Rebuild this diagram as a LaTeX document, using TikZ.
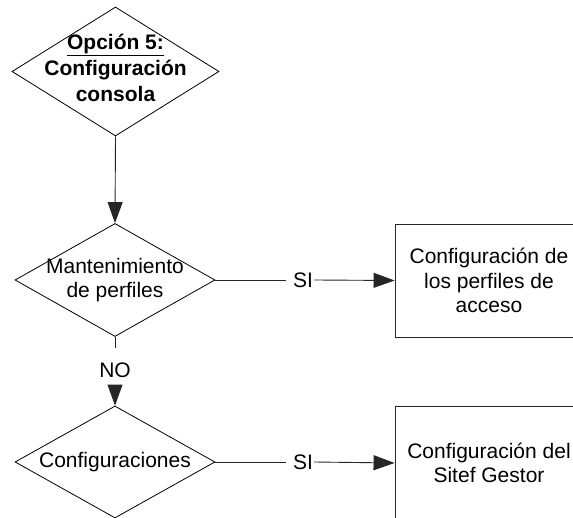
\documentclass[tikz,border=0pt]{standalone}
\usepackage{fontspec}
\setmainfont{Liberation Sans}
\usetikzlibrary{shapes.geometric,arrows.meta,calc}

\tikzset{
  decision/.style={shape=diamond, draw=black, line width=0.8pt, inner sep=0pt, fill=white},
  process/.style={shape=rectangle, draw=black!85, line width=0.9pt, align=center, inner sep=0pt,
    font=\fontsize{21}{24.5}\selectfont},
  txt/.style={align=center, inner sep=0pt, font=\fontsize{21}{24.5}\selectfont},
  conn/.style={draw=black!85, line width=0.9pt},
  arr/.style={conn, -{Triangle[length=21pt,width=15pt]}},
}

\begin{document}
\begin{tikzpicture}[x=1pt,y=1pt]
\path[use as bounding box] (0,0) rectangle (573,518);
\clip (0,0) rectangle (573,518);

% decisions
\node[decision, minimum width=207pt, minimum height=129pt] (d1) at (115.5,446.5) {};
\node[txt, font=\fontsize{21}{26}\selectfont\bfseries] (t1) at (115.5,450)
  {\underline{Opción 5:}\\Configuración\\consola};

\node[decision, minimum width=200pt, minimum height=113pt] (d2) at (115,238) {};
\node[txt] (t2) at (115,238) {Mantenimiento\\de perfiles};

\node[decision, minimum width=200pt, minimum height=112pt] (d3) at (115,56) {};
\node[txt] (t3) at (115,56) {Configuraciones};

% actions
\node[process, minimum width=188pt, minimum height=113pt] (b1) at (489,237.5)
  {Configuración de\\los perfiles de\\acceso};
\node[process, minimum width=188pt, minimum height=113pt] (b2) at (489,55)
  {Configuración del\\Sitef Gestor};

% labels on the connectors
\node[txt] (si1) at (303,238) {SI};
\node[txt] (si2) at (303,56) {SI};
\node[txt] (no) at (115,148) {NO};

% connectors
\draw[arr] (d1.south) -- (d2.north);

\draw[conn] (d2.east) -- ([xshift=-7pt]si1.west);
\draw[arr] ([xshift=1pt]si1.east) -- (b1.west);

\draw[conn] (d2.south) -- ([yshift=14.5pt]no.north);
\draw[arr] ([yshift=-7.5pt]no.south) -- (d3.north);

\draw[conn] (d3.east) -- ([xshift=-7pt]si2.west);
\draw[arr] ([xshift=1pt]si2.east) -- (b2.west);
\end{tikzpicture}
\end{document}
